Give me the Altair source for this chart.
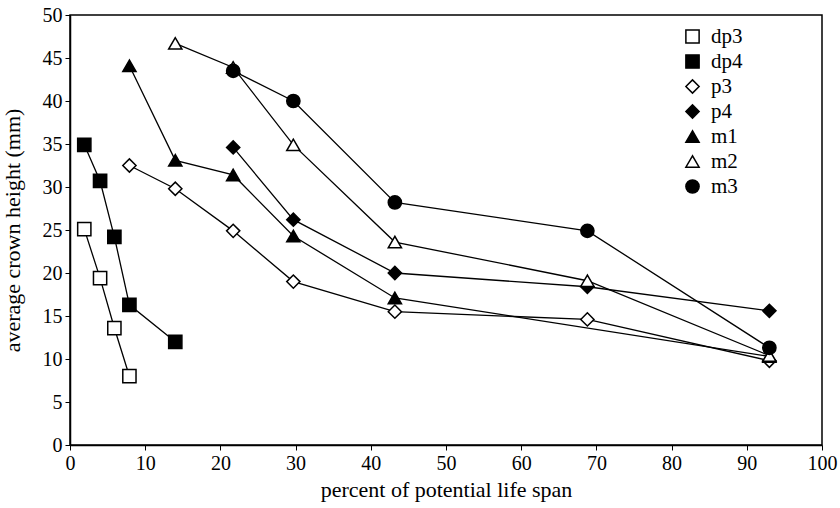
import altair as alt
import pandas as pd

series = ["dp3", "dp4", "p3", "p4", "m1", "m2", "m3"]
shapes = ["square", "square", "diamond", "diamond", "triangle-up", "triangle-up", "circle"]
fills = ["white", "black", "white", "black", "black", "white", "black"]
strokes = ["black"] * 7

dp3_x = [1.9, 4.0, 5.9, 7.9]
dp3_y = [25.1, 19.4, 13.6, 8.0]
dp4_x = [1.9, 4.0, 5.9, 7.9, 14.0]
dp4_y = [34.9, 30.7, 24.2, 16.3, 12.0]
p3_x = [7.9, 14.0, 21.7, 29.7, 43.2, 68.8, 93.0]
p3_y = [32.5, 29.8, 24.9, 19.0, 15.5, 14.6, 9.8]
p4_x = [21.7, 29.7, 43.2, 68.8, 93.0]
p4_y = [34.6, 26.2, 20.0, 18.4, 15.6]
m1_x = [7.9, 14.0, 21.7, 29.7, 43.2, 93.0]
m1_y = [44.1, 33.1, 31.4, 24.3, 17.1, 10.3]
m2_x = [14.0, 21.7, 29.7, 43.2, 68.8, 93.0]
m2_y = [46.7, 43.9, 34.9, 23.6, 19.1, 10.4]
m3_x = [21.7, 29.7, 43.2, 68.8, 93.0]
m3_y = [43.5, 40.0, 28.2, 24.9, 11.3]

xs = [dp3_x, dp4_x, p3_x, p4_x, m1_x, m2_x, m3_x]
ys = [dp3_y, dp4_y, p3_y, p4_y, m1_y, m2_y, m3_y]

rows = []
for s, xl, yl in zip(series, xs, ys):
    for xv, yv in zip(xl, yl):
        rows.append({"series": s, "x": xv, "y": yv})
df = pd.DataFrame(rows)

FONT = "Liberation Serif"

x_enc = alt.X("x:Q", scale=alt.Scale(domain=[0, 100], nice=False, padding=0, zero=False),
              axis=alt.Axis(values=list(range(0, 101, 10)), title="percent of potential life span",
                            titlePadding=6, labelFlush=False))
y_enc = alt.Y("y:Q", scale=alt.Scale(domain=[0, 50], nice=False, padding=0, zero=False),
              axis=alt.Axis(values=list(range(0, 51, 5)), title="average crown height (mm)",
                            titlePadding=18, labelFlush=False))

leg = alt.Legend(title=None, orient="none", legendX=612, legendY=11)

lines = alt.Chart(df).mark_line(color="black", strokeWidth=1.3).encode(
    x=x_enc, y=y_enc, detail="series:N", order="x:Q"
)

points = alt.Chart(df).mark_point(filled=True, strokeWidth=1.5, opacity=1, size=175).encode(
    x=x_enc, y=y_enc,
    shape=alt.Shape("series:N", scale=alt.Scale(domain=series, range=shapes), legend=leg),
    fill=alt.Fill("series:N", scale=alt.Scale(domain=series, range=fills), legend=leg),
    stroke=alt.Stroke("series:N", scale=alt.Scale(domain=series, range=strokes), legend=leg),
)

chart = alt.layer(lines, points).properties(
    width=752, height=430,
    autosize=alt.AutoSizeParams(type="none"),
    padding={"left": 70, "top": 15, "right": 18, "bottom": 63},
).configure_view(
    stroke="black", strokeWidth=1.5
).configure_axis(
    grid=False, domainColor="black", domainWidth=1.5, tickColor="black", tickSize=5,
    tickWidth=1, labelFont=FONT, labelFontSize=20, labelColor="black", labelPadding=3,
    titleFont=FONT, titleFontSize=22, titleFontWeight="normal", titleColor="black"
).configure_legend(
    labelFont=FONT, labelFontSize=21, labelColor="black", symbolSize=175,
    symbolStrokeWidth=1.5, rowPadding=3, labelOffset=8, padding=0
)

chart.save("out.html", embed_options={"renderer": "svg", "actions": False})
